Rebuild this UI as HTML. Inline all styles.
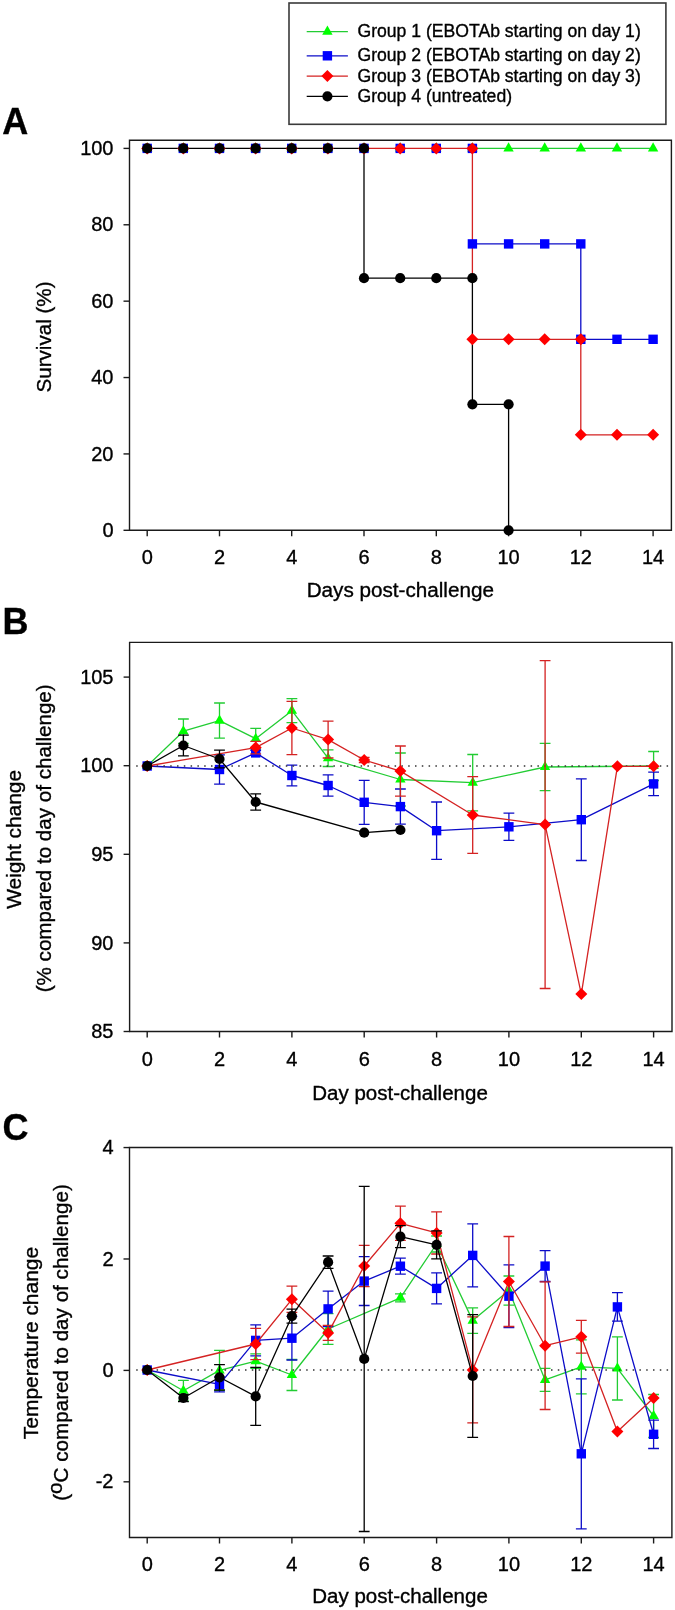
<!DOCTYPE html>
<html><head><meta charset="utf-8"><style>
html,body{margin:0;padding:0;background:#fff;overflow:hidden;width:675px;height:1610px;}
svg{display:block;will-change:transform;}
text{font-family:"Liberation Sans", sans-serif;fill:#000;stroke:#000;stroke-width:0.35px;}
</style></head><body>
<svg width="675" height="1610" viewBox="0 0 675 1610">
<rect width="675" height="1610" fill="#fff"/>
<rect x="289.0" y="3.0" width="376.9" height="121.3" fill="none" stroke="#3a3a3a" stroke-width="1.6"/>
<path d="M306.7,31.6 H347.9" stroke="#22cc33" stroke-width="1.3"/>
<path d="M327.40,25.55 L332.60,34.65 L322.20,34.65Z" fill="#00ff00"/>
<text x="357.5" y="37.1" font-size="17.6" text-anchor="start" font-weight="normal">Group 1 (EBOTAb starting on day 1)</text>
<path d="M306.7,55.8 H347.9" stroke="#0c0cc8" stroke-width="1.3"/>
<rect x="322.7" y="51.1" width="9.4" height="9.4" fill="#0000ff"/>
<text x="357.5" y="61.3" font-size="17.6" text-anchor="start" font-weight="normal">Group 2 (EBOTAb starting on day 2)</text>
<path d="M306.7,76.1 H347.9" stroke="#d42222" stroke-width="1.3"/>
<path d="M327.4,70.1 L333.4,76.1 L327.4,82.1 L321.4,76.1Z" fill="#ff0000"/>
<text x="357.5" y="81.6" font-size="17.6" text-anchor="start" font-weight="normal">Group 3 (EBOTAb starting on day 3)</text>
<path d="M306.7,96.3 H347.9" stroke="#000000" stroke-width="1.3"/>
<circle cx="327.4" cy="96.3" r="5.1" fill="#000000"/>
<text x="357.5" y="101.8" font-size="17.6" text-anchor="start" font-weight="normal">Group 4 (untreated)</text>
<text x="2.2" y="134.3" font-size="36" text-anchor="start" font-weight="bold">A</text>
<text x="2.6" y="634" font-size="36" text-anchor="start" font-weight="bold">B</text>
<text x="2.6" y="1139.5" font-size="36" text-anchor="start" font-weight="bold">C</text>
<path d="M129.5,140.3 H671.4 V530.3 H129.5 Z" fill="none" stroke="#1a1a1a" stroke-width="1.4"/>
<path d="M123.5,530.3 H129.5" stroke="#1a1a1a" stroke-width="1.4"/>
<path d="M123.5,453.91999999999996 H129.5" stroke="#1a1a1a" stroke-width="1.4"/>
<path d="M123.5,377.53999999999996 H129.5" stroke="#1a1a1a" stroke-width="1.4"/>
<path d="M123.5,301.15999999999997 H129.5" stroke="#1a1a1a" stroke-width="1.4"/>
<path d="M123.5,224.77999999999997 H129.5" stroke="#1a1a1a" stroke-width="1.4"/>
<path d="M123.5,148.39999999999998 H129.5" stroke="#1a1a1a" stroke-width="1.4"/>
<path d="M147.2,530.3 V536.3" stroke="#1a1a1a" stroke-width="1.4"/>
<path d="M219.5,530.3 V536.3" stroke="#1a1a1a" stroke-width="1.4"/>
<path d="M291.7,530.3 V536.3" stroke="#1a1a1a" stroke-width="1.4"/>
<path d="M364.0,530.3 V536.3" stroke="#1a1a1a" stroke-width="1.4"/>
<path d="M436.3,530.3 V536.3" stroke="#1a1a1a" stroke-width="1.4"/>
<path d="M508.6,530.3 V536.3" stroke="#1a1a1a" stroke-width="1.4"/>
<path d="M580.8,530.3 V536.3" stroke="#1a1a1a" stroke-width="1.4"/>
<path d="M653.1,530.3 V536.3" stroke="#1a1a1a" stroke-width="1.4"/>
<text x="113.5" y="536.9" font-size="20" text-anchor="end" font-weight="normal">0</text>
<text x="113.5" y="460.52" font-size="20" text-anchor="end" font-weight="normal">20</text>
<text x="113.5" y="384.14" font-size="20" text-anchor="end" font-weight="normal">40</text>
<text x="113.5" y="307.76" font-size="20" text-anchor="end" font-weight="normal">60</text>
<text x="113.5" y="231.37999999999997" font-size="20" text-anchor="end" font-weight="normal">80</text>
<text x="113.5" y="154.99999999999997" font-size="20" text-anchor="end" font-weight="normal">100</text>
<text x="147.2" y="564" font-size="20" text-anchor="middle" font-weight="normal">0</text>
<text x="219.47199999999998" y="564" font-size="20" text-anchor="middle" font-weight="normal">2</text>
<text x="291.744" y="564" font-size="20" text-anchor="middle" font-weight="normal">4</text>
<text x="364.016" y="564" font-size="20" text-anchor="middle" font-weight="normal">6</text>
<text x="436.288" y="564" font-size="20" text-anchor="middle" font-weight="normal">8</text>
<text x="508.56" y="564" font-size="20" text-anchor="middle" font-weight="normal">10</text>
<text x="580.8320000000001" y="564" font-size="20" text-anchor="middle" font-weight="normal">12</text>
<text x="653.104" y="564" font-size="20" text-anchor="middle" font-weight="normal">14</text>
<text transform="translate(400.3,597.0) scale(1.034,1)" font-size="20" text-anchor="middle" font-weight="normal">Days post-challenge</text>
<text transform="translate(51,337) rotate(-90) scale(1.031,1)" font-size="20" text-anchor="middle" font-weight="normal">Survival (%)</text>
<path d="M472.4,148.4 L653.1,148.4" fill="none" stroke="#22cc33" stroke-width="1.3"/>
<path d="M472.4,243.9 L580.8,243.9 L580.8,339.3 L653.1,339.3" fill="none" stroke="#0c0cc8" stroke-width="1.3"/>
<path d="M364.0,148.4 L472.4,148.4 L472.4,278.2" fill="none" stroke="#d42222" stroke-width="1.3"/>
<path d="M472.4,339.3 L580.8,339.3 L580.8,434.8 L653.1,434.8" fill="none" stroke="#d42222" stroke-width="1.3"/>
<path d="M147.2,148.4 L364.0,148.4 L364.0,278.2 L472.4,278.2 L472.4,404.3 L508.6,404.3 L508.6,530.3" fill="none" stroke="#000000" stroke-width="1.3"/>
<path d="M147.20,142.35 L152.40,151.45 L142.00,151.45Z" fill="#00ff00"/>
<path d="M183.34,142.35 L188.54,151.45 L178.14,151.45Z" fill="#00ff00"/>
<path d="M219.47,142.35 L224.67,151.45 L214.27,151.45Z" fill="#00ff00"/>
<path d="M255.61,142.35 L260.81,151.45 L250.41,151.45Z" fill="#00ff00"/>
<path d="M291.74,142.35 L296.94,151.45 L286.54,151.45Z" fill="#00ff00"/>
<path d="M327.88,142.35 L333.08,151.45 L322.68,151.45Z" fill="#00ff00"/>
<path d="M364.02,142.35 L369.22,151.45 L358.82,151.45Z" fill="#00ff00"/>
<path d="M400.15,142.35 L405.35,151.45 L394.95,151.45Z" fill="#00ff00"/>
<path d="M436.29,142.35 L441.49,151.45 L431.09,151.45Z" fill="#00ff00"/>
<path d="M472.42,142.35 L477.62,151.45 L467.22,151.45Z" fill="#00ff00"/>
<path d="M508.56,142.35 L513.76,151.45 L503.36,151.45Z" fill="#00ff00"/>
<path d="M544.70,142.35 L549.90,151.45 L539.50,151.45Z" fill="#00ff00"/>
<path d="M580.83,142.35 L586.03,151.45 L575.63,151.45Z" fill="#00ff00"/>
<path d="M616.97,142.35 L622.17,151.45 L611.77,151.45Z" fill="#00ff00"/>
<path d="M653.10,142.35 L658.30,151.45 L647.90,151.45Z" fill="#00ff00"/>
<rect x="142.5" y="143.7" width="9.4" height="9.4" fill="#0000ff"/>
<rect x="178.6" y="143.7" width="9.4" height="9.4" fill="#0000ff"/>
<rect x="214.8" y="143.7" width="9.4" height="9.4" fill="#0000ff"/>
<rect x="250.9" y="143.7" width="9.4" height="9.4" fill="#0000ff"/>
<rect x="287.0" y="143.7" width="9.4" height="9.4" fill="#0000ff"/>
<rect x="323.2" y="143.7" width="9.4" height="9.4" fill="#0000ff"/>
<rect x="359.3" y="143.7" width="9.4" height="9.4" fill="#0000ff"/>
<rect x="395.5" y="143.7" width="9.4" height="9.4" fill="#0000ff"/>
<rect x="431.6" y="143.7" width="9.4" height="9.4" fill="#0000ff"/>
<rect x="467.7" y="143.7" width="9.4" height="9.4" fill="#0000ff"/>
<rect x="467.7" y="239.2" width="9.4" height="9.4" fill="#0000ff"/>
<rect x="503.9" y="239.2" width="9.4" height="9.4" fill="#0000ff"/>
<rect x="540.0" y="239.2" width="9.4" height="9.4" fill="#0000ff"/>
<rect x="576.1" y="239.2" width="9.4" height="9.4" fill="#0000ff"/>
<rect x="576.1" y="334.6" width="9.4" height="9.4" fill="#0000ff"/>
<rect x="612.3" y="334.6" width="9.4" height="9.4" fill="#0000ff"/>
<rect x="648.4" y="334.6" width="9.4" height="9.4" fill="#0000ff"/>
<path d="M147.2,142.4 L153.2,148.4 L147.2,154.4 L141.2,148.4Z" fill="#ff0000"/>
<path d="M183.3,142.4 L189.3,148.4 L183.3,154.4 L177.3,148.4Z" fill="#ff0000"/>
<path d="M219.5,142.4 L225.5,148.4 L219.5,154.4 L213.5,148.4Z" fill="#ff0000"/>
<path d="M255.6,142.4 L261.6,148.4 L255.6,154.4 L249.6,148.4Z" fill="#ff0000"/>
<path d="M291.7,142.4 L297.7,148.4 L291.7,154.4 L285.7,148.4Z" fill="#ff0000"/>
<path d="M327.9,142.4 L333.9,148.4 L327.9,154.4 L321.9,148.4Z" fill="#ff0000"/>
<path d="M364.0,142.4 L370.0,148.4 L364.0,154.4 L358.0,148.4Z" fill="#ff0000"/>
<path d="M400.2,142.4 L406.2,148.4 L400.2,154.4 L394.2,148.4Z" fill="#ff0000"/>
<path d="M436.3,142.4 L442.3,148.4 L436.3,154.4 L430.3,148.4Z" fill="#ff0000"/>
<path d="M472.4,142.4 L478.4,148.4 L472.4,154.4 L466.4,148.4Z" fill="#ff0000"/>
<path d="M472.4,333.3 L478.4,339.3 L472.4,345.3 L466.4,339.3Z" fill="#ff0000"/>
<path d="M508.6,333.3 L514.6,339.3 L508.6,345.3 L502.6,339.3Z" fill="#ff0000"/>
<path d="M544.7,333.3 L550.7,339.3 L544.7,345.3 L538.7,339.3Z" fill="#ff0000"/>
<path d="M580.8,333.3 L586.8,339.3 L580.8,345.3 L574.8,339.3Z" fill="#ff0000"/>
<path d="M580.8,428.8 L586.8,434.8 L580.8,440.8 L574.8,434.8Z" fill="#ff0000"/>
<path d="M617.0,428.8 L623.0,434.8 L617.0,440.8 L611.0,434.8Z" fill="#ff0000"/>
<path d="M653.1,428.8 L659.1,434.8 L653.1,440.8 L647.1,434.8Z" fill="#ff0000"/>
<circle cx="147.2" cy="148.4" r="5.1" fill="#000000"/>
<circle cx="183.3" cy="148.4" r="5.1" fill="#000000"/>
<circle cx="219.5" cy="148.4" r="5.1" fill="#000000"/>
<circle cx="255.6" cy="148.4" r="5.1" fill="#000000"/>
<circle cx="291.7" cy="148.4" r="5.1" fill="#000000"/>
<circle cx="327.9" cy="148.4" r="5.1" fill="#000000"/>
<circle cx="364.0" cy="148.4" r="5.1" fill="#000000"/>
<circle cx="364.0" cy="278.2" r="5.1" fill="#000000"/>
<circle cx="400.2" cy="278.2" r="5.1" fill="#000000"/>
<circle cx="436.3" cy="278.2" r="5.1" fill="#000000"/>
<circle cx="472.4" cy="278.2" r="5.1" fill="#000000"/>
<circle cx="472.4" cy="404.3" r="5.1" fill="#000000"/>
<circle cx="508.6" cy="404.3" r="5.1" fill="#000000"/>
<circle cx="508.6" cy="530.3" r="5.1" fill="#000000"/>
<path d="M129.6,642.4 H672.0 V1031.5 H129.6 Z" fill="none" stroke="#1a1a1a" stroke-width="1.4"/>
<path d="M123.6,1031.5 H129.6" stroke="#1a1a1a" stroke-width="1.4"/>
<path d="M123.6,942.9 H129.6" stroke="#1a1a1a" stroke-width="1.4"/>
<path d="M123.6,854.3 H129.6" stroke="#1a1a1a" stroke-width="1.4"/>
<path d="M123.6,765.7 H129.6" stroke="#1a1a1a" stroke-width="1.4"/>
<path d="M123.6,677.1 H129.6" stroke="#1a1a1a" stroke-width="1.4"/>
<path d="M147.2,1031.5 V1037.5" stroke="#1a1a1a" stroke-width="1.4"/>
<path d="M219.5,1031.5 V1037.5" stroke="#1a1a1a" stroke-width="1.4"/>
<path d="M291.9,1031.5 V1037.5" stroke="#1a1a1a" stroke-width="1.4"/>
<path d="M364.2,1031.5 V1037.5" stroke="#1a1a1a" stroke-width="1.4"/>
<path d="M436.6,1031.5 V1037.5" stroke="#1a1a1a" stroke-width="1.4"/>
<path d="M508.9,1031.5 V1037.5" stroke="#1a1a1a" stroke-width="1.4"/>
<path d="M581.3,1031.5 V1037.5" stroke="#1a1a1a" stroke-width="1.4"/>
<path d="M653.6,1031.5 V1037.5" stroke="#1a1a1a" stroke-width="1.4"/>
<text x="113.5" y="1038.1" font-size="20" text-anchor="end" font-weight="normal">85</text>
<text x="113.5" y="949.5" font-size="20" text-anchor="end" font-weight="normal">90</text>
<text x="113.5" y="860.9" font-size="20" text-anchor="end" font-weight="normal">95</text>
<text x="113.5" y="772.3000000000001" font-size="20" text-anchor="end" font-weight="normal">100</text>
<text x="113.5" y="683.7" font-size="20" text-anchor="end" font-weight="normal">105</text>
<text x="147.2" y="1066" font-size="20" text-anchor="middle" font-weight="normal">0</text>
<text x="219.54199999999997" y="1066" font-size="20" text-anchor="middle" font-weight="normal">2</text>
<text x="291.884" y="1066" font-size="20" text-anchor="middle" font-weight="normal">4</text>
<text x="364.226" y="1066" font-size="20" text-anchor="middle" font-weight="normal">6</text>
<text x="436.568" y="1066" font-size="20" text-anchor="middle" font-weight="normal">8</text>
<text x="508.90999999999997" y="1066" font-size="20" text-anchor="middle" font-weight="normal">10</text>
<text x="581.252" y="1066" font-size="20" text-anchor="middle" font-weight="normal">12</text>
<text x="653.594" y="1066" font-size="20" text-anchor="middle" font-weight="normal">14</text>
<text transform="translate(400,1099.5) scale(1.026,1)" font-size="20" text-anchor="middle" font-weight="normal">Day post-challenge</text>
<text transform="translate(20.9,839.4) rotate(-90) scale(1.044,1)" font-size="20" text-anchor="middle" font-weight="normal">Weight change</text>
<text transform="translate(50.6,838.3) rotate(-90) scale(1.03,1)" font-size="20" text-anchor="middle" font-weight="normal">(% compared to day of challenge)</text>
<path d="M183.4,719.0 V743.4 M178.0,719.0 H188.8 M178.0,743.4 H188.8" stroke="#22cc33" stroke-width="1.3" fill="none"/>
<path d="M219.5,703.0 V738.2 M214.1,703.0 H224.9 M214.1,738.2 H224.9" stroke="#22cc33" stroke-width="1.3" fill="none"/>
<path d="M255.7,728.4 V749.0 M250.3,728.4 H261.1 M250.3,749.0 H261.1" stroke="#22cc33" stroke-width="1.3" fill="none"/>
<path d="M291.9,698.7 V722.7 M286.5,698.7 H297.3 M286.5,722.7 H297.3" stroke="#22cc33" stroke-width="1.3" fill="none"/>
<path d="M328.1,749.9 V766.5 M322.7,749.9 H333.5 M322.7,766.5 H333.5" stroke="#22cc33" stroke-width="1.3" fill="none"/>
<path d="M400.4,753.0 V806.0 M395.0,753.0 H405.8 M395.0,806.0 H405.8" stroke="#22cc33" stroke-width="1.3" fill="none"/>
<path d="M472.7,754.5 V810.9 M467.3,754.5 H478.1 M467.3,810.9 H478.1" stroke="#22cc33" stroke-width="1.3" fill="none"/>
<path d="M545.1,743.4 V790.6 M539.7,743.4 H550.5 M539.7,790.6 H550.5" stroke="#22cc33" stroke-width="1.3" fill="none"/>
<path d="M653.6,751.5 V780.5 M648.2,751.5 H659.0 M648.2,780.5 H659.0" stroke="#22cc33" stroke-width="1.3" fill="none"/>
<path d="M147.2,766.0 L183.4,731.2 L219.5,720.6 L255.7,738.7 L291.9,710.7 L328.1,758.2 L400.4,779.5 L472.7,782.7 L545.1,767.0 L653.6,766.0" fill="none" stroke="#22cc33" stroke-width="1.3" stroke-linejoin="round"/>
<path d="M147.20,759.95 L152.40,769.05 L142.00,769.05Z" fill="#00ff00"/>
<path d="M183.37,725.15 L188.57,734.25 L178.17,734.25Z" fill="#00ff00"/>
<path d="M219.54,714.55 L224.74,723.65 L214.34,723.65Z" fill="#00ff00"/>
<path d="M255.71,732.65 L260.91,741.75 L250.51,741.75Z" fill="#00ff00"/>
<path d="M291.88,704.65 L297.08,713.75 L286.68,713.75Z" fill="#00ff00"/>
<path d="M328.05,752.15 L333.25,761.25 L322.85,761.25Z" fill="#00ff00"/>
<path d="M400.40,773.45 L405.60,782.55 L395.20,782.55Z" fill="#00ff00"/>
<path d="M472.74,776.65 L477.94,785.75 L467.54,785.75Z" fill="#00ff00"/>
<path d="M545.08,760.95 L550.28,770.05 L539.88,770.05Z" fill="#00ff00"/>
<path d="M653.59,759.95 L658.79,769.05 L648.39,769.05Z" fill="#00ff00"/>
<path d="M219.5,754.8 V784.2 M214.1,754.8 H224.9 M214.1,784.2 H224.9" stroke="#0c0cc8" stroke-width="1.3" fill="none"/>
<path d="M255.7,750.4 V755.4 M250.3,750.4 H261.1 M250.3,755.4 H261.1" stroke="#0c0cc8" stroke-width="1.3" fill="none"/>
<path d="M291.9,765.1 V785.9 M286.5,765.1 H297.3 M286.5,785.9 H297.3" stroke="#0c0cc8" stroke-width="1.3" fill="none"/>
<path d="M328.1,774.9 V796.1 M322.7,774.9 H333.5 M322.7,796.1 H333.5" stroke="#0c0cc8" stroke-width="1.3" fill="none"/>
<path d="M364.2,780.3 V824.3 M358.8,780.3 H369.6 M358.8,824.3 H369.6" stroke="#0c0cc8" stroke-width="1.3" fill="none"/>
<path d="M400.4,789.0 V824.2 M395.0,789.0 H405.8 M395.0,824.2 H405.8" stroke="#0c0cc8" stroke-width="1.3" fill="none"/>
<path d="M436.6,802.0 V859.4 M431.2,802.0 H442.0 M431.2,859.4 H442.0" stroke="#0c0cc8" stroke-width="1.3" fill="none"/>
<path d="M508.9,813.2 V840.4 M503.5,813.2 H514.3 M503.5,840.4 H514.3" stroke="#0c0cc8" stroke-width="1.3" fill="none"/>
<path d="M581.3,778.9 V860.5 M575.9,778.9 H586.7 M575.9,860.5 H586.7" stroke="#0c0cc8" stroke-width="1.3" fill="none"/>
<path d="M653.6,772.2 V795.6 M648.2,772.2 H659.0 M648.2,795.6 H659.0" stroke="#0c0cc8" stroke-width="1.3" fill="none"/>
<path d="M147.2,766.0 L219.5,769.5 L255.7,752.9 L291.9,775.5 L328.1,785.5 L364.2,802.3 L400.4,806.6 L436.6,830.7 L508.9,826.8 L581.3,819.7 L653.6,783.9" fill="none" stroke="#0c0cc8" stroke-width="1.3" stroke-linejoin="round"/>
<rect x="142.5" y="761.3" width="9.4" height="9.4" fill="#0000ff"/>
<rect x="214.8" y="764.8" width="9.4" height="9.4" fill="#0000ff"/>
<rect x="251.0" y="748.2" width="9.4" height="9.4" fill="#0000ff"/>
<rect x="287.2" y="770.8" width="9.4" height="9.4" fill="#0000ff"/>
<rect x="323.4" y="780.8" width="9.4" height="9.4" fill="#0000ff"/>
<rect x="359.5" y="797.6" width="9.4" height="9.4" fill="#0000ff"/>
<rect x="395.7" y="801.9" width="9.4" height="9.4" fill="#0000ff"/>
<rect x="431.9" y="826.0" width="9.4" height="9.4" fill="#0000ff"/>
<rect x="504.2" y="822.1" width="9.4" height="9.4" fill="#0000ff"/>
<rect x="576.6" y="815.0" width="9.4" height="9.4" fill="#0000ff"/>
<rect x="648.9" y="779.2" width="9.4" height="9.4" fill="#0000ff"/>
<path d="M136.2,766 H670.0" stroke="#333" stroke-width="1.5" stroke-dasharray="1.5 5.3"/>
<path d="M255.7,741.3 V753.9 M250.3,741.3 H261.1 M250.3,753.9 H261.1" stroke="#d42222" stroke-width="1.3" fill="none"/>
<path d="M291.9,701.3 V754.7 M286.5,701.3 H297.3 M286.5,754.7 H297.3" stroke="#d42222" stroke-width="1.3" fill="none"/>
<path d="M328.1,721.2 V758.0 M322.7,721.2 H333.5 M322.7,758.0 H333.5" stroke="#d42222" stroke-width="1.3" fill="none"/>
<path d="M364.2,757.5 V762.5 M358.8,757.5 H369.6 M358.8,762.5 H369.6" stroke="#d42222" stroke-width="1.3" fill="none"/>
<path d="M400.4,746.0 V796.2 M395.0,746.0 H405.8 M395.0,796.2 H405.8" stroke="#d42222" stroke-width="1.3" fill="none"/>
<path d="M472.7,776.7 V853.3 M467.3,776.7 H478.1 M467.3,853.3 H478.1" stroke="#d42222" stroke-width="1.3" fill="none"/>
<path d="M545.1,660.7 V988.5 M539.7,660.7 H550.5 M539.7,988.5 H550.5" stroke="#d42222" stroke-width="1.3" fill="none"/>
<path d="M147.2,766.0 L255.7,747.6 L291.9,728.0 L328.1,739.6 L364.2,760.0 L400.4,771.1 L472.7,815.0 L545.1,824.6 L581.3,994.1 L617.4,766.3 L653.6,766.3" fill="none" stroke="#d42222" stroke-width="1.3" stroke-linejoin="round"/>
<path d="M147.2,760.0 L153.2,766.0 L147.2,772.0 L141.2,766.0Z" fill="#ff0000"/>
<path d="M255.7,741.6 L261.7,747.6 L255.7,753.6 L249.7,747.6Z" fill="#ff0000"/>
<path d="M291.9,722.0 L297.9,728.0 L291.9,734.0 L285.9,728.0Z" fill="#ff0000"/>
<path d="M328.1,733.6 L334.1,739.6 L328.1,745.6 L322.1,739.6Z" fill="#ff0000"/>
<path d="M364.2,754.0 L370.2,760.0 L364.2,766.0 L358.2,760.0Z" fill="#ff0000"/>
<path d="M400.4,765.1 L406.4,771.1 L400.4,777.1 L394.4,771.1Z" fill="#ff0000"/>
<path d="M472.7,809.0 L478.7,815.0 L472.7,821.0 L466.7,815.0Z" fill="#ff0000"/>
<path d="M545.1,818.6 L551.1,824.6 L545.1,830.6 L539.1,824.6Z" fill="#ff0000"/>
<path d="M581.3,988.1 L587.3,994.1 L581.3,1000.1 L575.3,994.1Z" fill="#ff0000"/>
<path d="M617.4,760.3 L623.4,766.3 L617.4,772.3 L611.4,766.3Z" fill="#ff0000"/>
<path d="M653.6,760.3 L659.6,766.3 L653.6,772.3 L647.6,766.3Z" fill="#ff0000"/>
<path d="M183.4,735.2 V755.8 M178.0,735.2 H188.8 M178.0,755.8 H188.8" stroke="#000000" stroke-width="1.3" fill="none"/>
<path d="M219.5,750.1 V767.9 M214.1,750.1 H224.9 M214.1,767.9 H224.9" stroke="#000000" stroke-width="1.3" fill="none"/>
<path d="M255.7,793.8 V810.2 M250.3,793.8 H261.1 M250.3,810.2 H261.1" stroke="#000000" stroke-width="1.3" fill="none"/>
<path d="M147.2,766.0 L183.4,745.5 L219.5,759.0 L255.7,802.0 L364.2,832.7 L400.4,830.0" fill="none" stroke="#000000" stroke-width="1.3" stroke-linejoin="round"/>
<circle cx="147.2" cy="766.0" r="5.1" fill="#000000"/>
<circle cx="183.4" cy="745.5" r="5.1" fill="#000000"/>
<circle cx="219.5" cy="759.0" r="5.1" fill="#000000"/>
<circle cx="255.7" cy="802.0" r="5.1" fill="#000000"/>
<circle cx="364.2" cy="832.7" r="5.1" fill="#000000"/>
<circle cx="400.4" cy="830.0" r="5.1" fill="#000000"/>
<path d="M129.5,1147.5 H671.9 V1537.5 H129.5 Z" fill="none" stroke="#1a1a1a" stroke-width="1.4"/>
<path d="M123.5,1147.5600000000002 H129.5" stroke="#1a1a1a" stroke-width="1.4"/>
<path d="M123.5,1258.98 H129.5" stroke="#1a1a1a" stroke-width="1.4"/>
<path d="M123.5,1370.4 H129.5" stroke="#1a1a1a" stroke-width="1.4"/>
<path d="M123.5,1481.8200000000002 H129.5" stroke="#1a1a1a" stroke-width="1.4"/>
<path d="M147.2,1537.5 V1543.5" stroke="#1a1a1a" stroke-width="1.4"/>
<path d="M219.5,1537.5 V1543.5" stroke="#1a1a1a" stroke-width="1.4"/>
<path d="M291.9,1537.5 V1543.5" stroke="#1a1a1a" stroke-width="1.4"/>
<path d="M364.2,1537.5 V1543.5" stroke="#1a1a1a" stroke-width="1.4"/>
<path d="M436.6,1537.5 V1543.5" stroke="#1a1a1a" stroke-width="1.4"/>
<path d="M508.9,1537.5 V1543.5" stroke="#1a1a1a" stroke-width="1.4"/>
<path d="M581.3,1537.5 V1543.5" stroke="#1a1a1a" stroke-width="1.4"/>
<path d="M653.6,1537.5 V1543.5" stroke="#1a1a1a" stroke-width="1.4"/>
<text x="113.5" y="1154.16" font-size="20" text-anchor="end" font-weight="normal">4</text>
<text x="113.5" y="1265.58" font-size="20" text-anchor="end" font-weight="normal">2</text>
<text x="113.5" y="1377.0" font-size="20" text-anchor="end" font-weight="normal">0</text>
<text x="113.5" y="1488.42" font-size="20" text-anchor="end" font-weight="normal">-2</text>
<text x="147.2" y="1570.8" font-size="20" text-anchor="middle" font-weight="normal">0</text>
<text x="219.54199999999997" y="1570.8" font-size="20" text-anchor="middle" font-weight="normal">2</text>
<text x="291.884" y="1570.8" font-size="20" text-anchor="middle" font-weight="normal">4</text>
<text x="364.226" y="1570.8" font-size="20" text-anchor="middle" font-weight="normal">6</text>
<text x="436.568" y="1570.8" font-size="20" text-anchor="middle" font-weight="normal">8</text>
<text x="508.90999999999997" y="1570.8" font-size="20" text-anchor="middle" font-weight="normal">10</text>
<text x="581.252" y="1570.8" font-size="20" text-anchor="middle" font-weight="normal">12</text>
<text x="653.594" y="1570.8" font-size="20" text-anchor="middle" font-weight="normal">14</text>
<text transform="translate(400,1602.9) scale(1.026,1)" font-size="20" text-anchor="middle" font-weight="normal">Day post-challenge</text>
<text transform="translate(37.6,1343) rotate(-90) scale(1.049,1)" font-size="20" text-anchor="middle" font-weight="normal">Temperature change</text>
<text transform="translate(68,1342.5) rotate(-90) scale(1.032,1)" font-size="20" text-anchor="middle" font-weight="normal">(<tspan dy="-6.3">o</tspan><tspan dy="6.3">C compared to day of challenge)</tspan></text>
<path d="M183.4,1380.4 V1401.0 M178.0,1380.4 H188.8 M178.0,1401.0 H188.8" stroke="#22cc33" stroke-width="1.3" fill="none"/>
<path d="M219.5,1350.4 V1390.4 M214.1,1350.4 H224.9 M214.1,1390.4 H224.9" stroke="#22cc33" stroke-width="1.3" fill="none"/>
<path d="M255.7,1353.8 V1368.4 M250.3,1353.8 H261.1 M250.3,1368.4 H261.1" stroke="#22cc33" stroke-width="1.3" fill="none"/>
<path d="M291.9,1359.5 V1390.5 M286.5,1359.5 H297.3 M286.5,1390.5 H297.3" stroke="#22cc33" stroke-width="1.3" fill="none"/>
<path d="M328.1,1313.6 V1344.4 M322.7,1313.6 H333.5 M322.7,1344.4 H333.5" stroke="#22cc33" stroke-width="1.3" fill="none"/>
<path d="M400.4,1293.8 V1301.8 M395.0,1293.8 H405.8 M395.0,1301.8 H405.8" stroke="#22cc33" stroke-width="1.3" fill="none"/>
<path d="M436.6,1236.0 V1252.0 M431.2,1236.0 H442.0 M431.2,1252.0 H442.0" stroke="#22cc33" stroke-width="1.3" fill="none"/>
<path d="M472.7,1307.8 V1333.4 M467.3,1307.8 H478.1 M467.3,1333.4 H478.1" stroke="#22cc33" stroke-width="1.3" fill="none"/>
<path d="M508.9,1276.0 V1305.2 M503.5,1276.0 H514.3 M503.5,1305.2 H514.3" stroke="#22cc33" stroke-width="1.3" fill="none"/>
<path d="M545.1,1368.4 V1391.4 M539.7,1368.4 H550.5 M539.7,1391.4 H550.5" stroke="#22cc33" stroke-width="1.3" fill="none"/>
<path d="M581.3,1339.8 V1393.8 M575.9,1339.8 H586.7 M575.9,1393.8 H586.7" stroke="#22cc33" stroke-width="1.3" fill="none"/>
<path d="M617.4,1336.8 V1400.0 M612.0,1336.8 H622.8 M612.0,1400.0 H622.8" stroke="#22cc33" stroke-width="1.3" fill="none"/>
<path d="M653.6,1394.5 V1437.5 M648.2,1394.5 H659.0 M648.2,1437.5 H659.0" stroke="#22cc33" stroke-width="1.3" fill="none"/>
<path d="M147.2,1370.0 L183.4,1390.7 L219.5,1370.4 L255.7,1361.1 L291.9,1375.0 L328.1,1329.0 L400.4,1297.8 L436.6,1244.0 L472.7,1320.6 L508.9,1290.6 L545.1,1379.9 L581.3,1366.8 L617.4,1368.4 L653.6,1416.0" fill="none" stroke="#22cc33" stroke-width="1.3" stroke-linejoin="round"/>
<path d="M147.20,1363.95 L152.40,1373.05 L142.00,1373.05Z" fill="#00ff00"/>
<path d="M183.37,1384.65 L188.57,1393.75 L178.17,1393.75Z" fill="#00ff00"/>
<path d="M219.54,1364.35 L224.74,1373.45 L214.34,1373.45Z" fill="#00ff00"/>
<path d="M255.71,1355.05 L260.91,1364.15 L250.51,1364.15Z" fill="#00ff00"/>
<path d="M291.88,1368.95 L297.08,1378.05 L286.68,1378.05Z" fill="#00ff00"/>
<path d="M328.05,1322.95 L333.25,1332.05 L322.85,1332.05Z" fill="#00ff00"/>
<path d="M400.40,1291.75 L405.60,1300.85 L395.20,1300.85Z" fill="#00ff00"/>
<path d="M436.57,1237.95 L441.77,1247.05 L431.37,1247.05Z" fill="#00ff00"/>
<path d="M472.74,1314.55 L477.94,1323.65 L467.54,1323.65Z" fill="#00ff00"/>
<path d="M508.91,1284.55 L514.11,1293.65 L503.71,1293.65Z" fill="#00ff00"/>
<path d="M545.08,1373.85 L550.28,1382.95 L539.88,1382.95Z" fill="#00ff00"/>
<path d="M581.25,1360.75 L586.45,1369.85 L576.05,1369.85Z" fill="#00ff00"/>
<path d="M617.42,1362.35 L622.62,1371.45 L612.22,1371.45Z" fill="#00ff00"/>
<path d="M653.59,1409.95 L658.79,1419.05 L648.39,1419.05Z" fill="#00ff00"/>
<path d="M219.5,1376.8 V1391.8 M214.1,1376.8 H224.9 M214.1,1391.8 H224.9" stroke="#0c0cc8" stroke-width="1.3" fill="none"/>
<path d="M255.7,1324.9 V1355.9 M250.3,1324.9 H261.1 M250.3,1355.9 H261.1" stroke="#0c0cc8" stroke-width="1.3" fill="none"/>
<path d="M291.9,1316.4 V1360.0 M286.5,1316.4 H297.3 M286.5,1360.0 H297.3" stroke="#0c0cc8" stroke-width="1.3" fill="none"/>
<path d="M328.1,1291.1 V1326.7 M322.7,1291.1 H333.5 M322.7,1326.7 H333.5" stroke="#0c0cc8" stroke-width="1.3" fill="none"/>
<path d="M364.2,1256.7 V1305.5 M358.8,1256.7 H369.6 M358.8,1305.5 H369.6" stroke="#0c0cc8" stroke-width="1.3" fill="none"/>
<path d="M400.4,1258.2 V1274.2 M395.0,1258.2 H405.8 M395.0,1274.2 H405.8" stroke="#0c0cc8" stroke-width="1.3" fill="none"/>
<path d="M436.6,1272.9 V1303.9 M431.2,1272.9 H442.0 M431.2,1303.9 H442.0" stroke="#0c0cc8" stroke-width="1.3" fill="none"/>
<path d="M472.7,1223.9 V1286.9 M467.3,1223.9 H478.1 M467.3,1286.9 H478.1" stroke="#0c0cc8" stroke-width="1.3" fill="none"/>
<path d="M508.9,1264.9 V1327.5 M503.5,1264.9 H514.3 M503.5,1327.5 H514.3" stroke="#0c0cc8" stroke-width="1.3" fill="none"/>
<path d="M545.1,1250.7 V1281.5 M539.7,1250.7 H550.5 M539.7,1281.5 H550.5" stroke="#0c0cc8" stroke-width="1.3" fill="none"/>
<path d="M581.3,1378.8 V1528.8 M575.9,1378.8 H586.7 M575.9,1528.8 H586.7" stroke="#0c0cc8" stroke-width="1.3" fill="none"/>
<path d="M617.4,1292.7 V1321.1 M612.0,1292.7 H622.8 M612.0,1321.1 H622.8" stroke="#0c0cc8" stroke-width="1.3" fill="none"/>
<path d="M653.6,1420.1 V1448.5 M648.2,1420.1 H659.0 M648.2,1448.5 H659.0" stroke="#0c0cc8" stroke-width="1.3" fill="none"/>
<path d="M147.2,1370.0 L219.5,1384.3 L255.7,1340.4 L291.9,1338.2 L328.1,1308.9 L364.2,1281.1 L400.4,1266.2 L436.6,1288.4 L472.7,1255.4 L508.9,1296.2 L545.1,1266.1 L581.3,1453.8 L617.4,1306.9 L653.6,1434.3" fill="none" stroke="#0c0cc8" stroke-width="1.3" stroke-linejoin="round"/>
<rect x="142.5" y="1365.3" width="9.4" height="9.4" fill="#0000ff"/>
<rect x="214.8" y="1379.6" width="9.4" height="9.4" fill="#0000ff"/>
<rect x="251.0" y="1335.7" width="9.4" height="9.4" fill="#0000ff"/>
<rect x="287.2" y="1333.5" width="9.4" height="9.4" fill="#0000ff"/>
<rect x="323.4" y="1304.2" width="9.4" height="9.4" fill="#0000ff"/>
<rect x="359.5" y="1276.4" width="9.4" height="9.4" fill="#0000ff"/>
<rect x="395.7" y="1261.5" width="9.4" height="9.4" fill="#0000ff"/>
<rect x="431.9" y="1283.7" width="9.4" height="9.4" fill="#0000ff"/>
<rect x="468.0" y="1250.7" width="9.4" height="9.4" fill="#0000ff"/>
<rect x="504.2" y="1291.5" width="9.4" height="9.4" fill="#0000ff"/>
<rect x="540.4" y="1261.4" width="9.4" height="9.4" fill="#0000ff"/>
<rect x="576.6" y="1449.1" width="9.4" height="9.4" fill="#0000ff"/>
<rect x="612.7" y="1302.2" width="9.4" height="9.4" fill="#0000ff"/>
<rect x="648.9" y="1429.6" width="9.4" height="9.4" fill="#0000ff"/>
<path d="M136.2,1370 H669.9" stroke="#333" stroke-width="1.5" stroke-dasharray="1.5 5.3"/>
<path d="M255.7,1328.4 V1359.6 M250.3,1328.4 H261.1 M250.3,1359.6 H261.1" stroke="#d42222" stroke-width="1.3" fill="none"/>
<path d="M291.9,1286.2 V1312.4 M286.5,1286.2 H297.3 M286.5,1312.4 H297.3" stroke="#d42222" stroke-width="1.3" fill="none"/>
<path d="M328.1,1325.4 V1340.4 M322.7,1325.4 H333.5 M322.7,1340.4 H333.5" stroke="#d42222" stroke-width="1.3" fill="none"/>
<path d="M364.2,1245.3 V1286.7 M358.8,1245.3 H369.6 M358.8,1286.7 H369.6" stroke="#d42222" stroke-width="1.3" fill="none"/>
<path d="M400.4,1206.2 V1240.4 M395.0,1206.2 H405.8 M395.0,1240.4 H405.8" stroke="#d42222" stroke-width="1.3" fill="none"/>
<path d="M436.6,1211.8 V1254.0 M431.2,1211.8 H442.0 M431.2,1254.0 H442.0" stroke="#d42222" stroke-width="1.3" fill="none"/>
<path d="M472.7,1316.9 V1422.9 M467.3,1316.9 H478.1 M467.3,1422.9 H478.1" stroke="#d42222" stroke-width="1.3" fill="none"/>
<path d="M508.9,1236.5 V1326.5 M503.5,1236.5 H514.3 M503.5,1326.5 H514.3" stroke="#d42222" stroke-width="1.3" fill="none"/>
<path d="M545.1,1281.9 V1409.5 M539.7,1281.9 H550.5 M539.7,1409.5 H550.5" stroke="#d42222" stroke-width="1.3" fill="none"/>
<path d="M581.3,1320.4 V1353.2 M575.9,1320.4 H586.7 M575.9,1353.2 H586.7" stroke="#d42222" stroke-width="1.3" fill="none"/>
<path d="M147.2,1370.0 L255.7,1344.0 L291.9,1299.3 L328.1,1332.9 L364.2,1266.0 L400.4,1223.3 L436.6,1232.9 L472.7,1369.9 L508.9,1281.5 L545.1,1345.7 L581.3,1336.8 L617.4,1431.5 L653.6,1398.1" fill="none" stroke="#d42222" stroke-width="1.3" stroke-linejoin="round"/>
<path d="M147.2,1364.0 L153.2,1370.0 L147.2,1376.0 L141.2,1370.0Z" fill="#ff0000"/>
<path d="M255.7,1338.0 L261.7,1344.0 L255.7,1350.0 L249.7,1344.0Z" fill="#ff0000"/>
<path d="M291.9,1293.3 L297.9,1299.3 L291.9,1305.3 L285.9,1299.3Z" fill="#ff0000"/>
<path d="M328.1,1326.9 L334.1,1332.9 L328.1,1338.9 L322.1,1332.9Z" fill="#ff0000"/>
<path d="M364.2,1260.0 L370.2,1266.0 L364.2,1272.0 L358.2,1266.0Z" fill="#ff0000"/>
<path d="M400.4,1217.3 L406.4,1223.3 L400.4,1229.3 L394.4,1223.3Z" fill="#ff0000"/>
<path d="M436.6,1226.9 L442.6,1232.9 L436.6,1238.9 L430.6,1232.9Z" fill="#ff0000"/>
<path d="M472.7,1363.9 L478.7,1369.9 L472.7,1375.9 L466.7,1369.9Z" fill="#ff0000"/>
<path d="M508.9,1275.5 L514.9,1281.5 L508.9,1287.5 L502.9,1281.5Z" fill="#ff0000"/>
<path d="M545.1,1339.7 L551.1,1345.7 L545.1,1351.7 L539.1,1345.7Z" fill="#ff0000"/>
<path d="M581.3,1330.8 L587.3,1336.8 L581.3,1342.8 L575.3,1336.8Z" fill="#ff0000"/>
<path d="M617.4,1425.5 L623.4,1431.5 L617.4,1437.5 L611.4,1431.5Z" fill="#ff0000"/>
<path d="M653.6,1392.1 L659.6,1398.1 L653.6,1404.1 L647.6,1398.1Z" fill="#ff0000"/>
<path d="M183.4,1394.4 V1401.6 M178.0,1394.4 H188.8 M178.0,1401.6 H188.8" stroke="#000000" stroke-width="1.3" fill="none"/>
<path d="M219.5,1364.6 V1390.0 M214.1,1364.6 H224.9 M214.1,1390.0 H224.9" stroke="#000000" stroke-width="1.3" fill="none"/>
<path d="M255.7,1367.4 V1425.4 M250.3,1367.4 H261.1 M250.3,1425.4 H261.1" stroke="#000000" stroke-width="1.3" fill="none"/>
<path d="M291.9,1309.2 V1323.2 M286.5,1309.2 H297.3 M286.5,1323.2 H297.3" stroke="#000000" stroke-width="1.3" fill="none"/>
<path d="M328.1,1256.0 V1268.4 M322.7,1256.0 H333.5 M322.7,1268.4 H333.5" stroke="#000000" stroke-width="1.3" fill="none"/>
<path d="M364.2,1186.3 V1531.5 M358.8,1186.3 H369.6 M358.8,1531.5 H369.6" stroke="#000000" stroke-width="1.3" fill="none"/>
<path d="M400.4,1225.7 V1247.7 M395.0,1225.7 H405.8 M395.0,1247.7 H405.8" stroke="#000000" stroke-width="1.3" fill="none"/>
<path d="M436.6,1230.9 V1258.9 M431.2,1230.9 H442.0 M431.2,1258.9 H442.0" stroke="#000000" stroke-width="1.3" fill="none"/>
<path d="M472.7,1314.7 V1437.3 M467.3,1314.7 H478.1 M467.3,1437.3 H478.1" stroke="#000000" stroke-width="1.3" fill="none"/>
<path d="M147.2,1370.0 L183.4,1398.0 L219.5,1377.3 L255.7,1396.4 L291.9,1316.2 L328.1,1262.2 L364.2,1358.9 L400.4,1236.7 L436.6,1244.9 L472.7,1376.0" fill="none" stroke="#000000" stroke-width="1.3" stroke-linejoin="round"/>
<circle cx="147.2" cy="1370.0" r="5.1" fill="#000000"/>
<circle cx="183.4" cy="1398.0" r="5.1" fill="#000000"/>
<circle cx="219.5" cy="1377.3" r="5.1" fill="#000000"/>
<circle cx="255.7" cy="1396.4" r="5.1" fill="#000000"/>
<circle cx="291.9" cy="1316.2" r="5.1" fill="#000000"/>
<circle cx="328.1" cy="1262.2" r="5.1" fill="#000000"/>
<circle cx="364.2" cy="1358.9" r="5.1" fill="#000000"/>
<circle cx="400.4" cy="1236.7" r="5.1" fill="#000000"/>
<circle cx="436.6" cy="1244.9" r="5.1" fill="#000000"/>
<circle cx="472.7" cy="1376.0" r="5.1" fill="#000000"/>
</svg>
</body></html>
